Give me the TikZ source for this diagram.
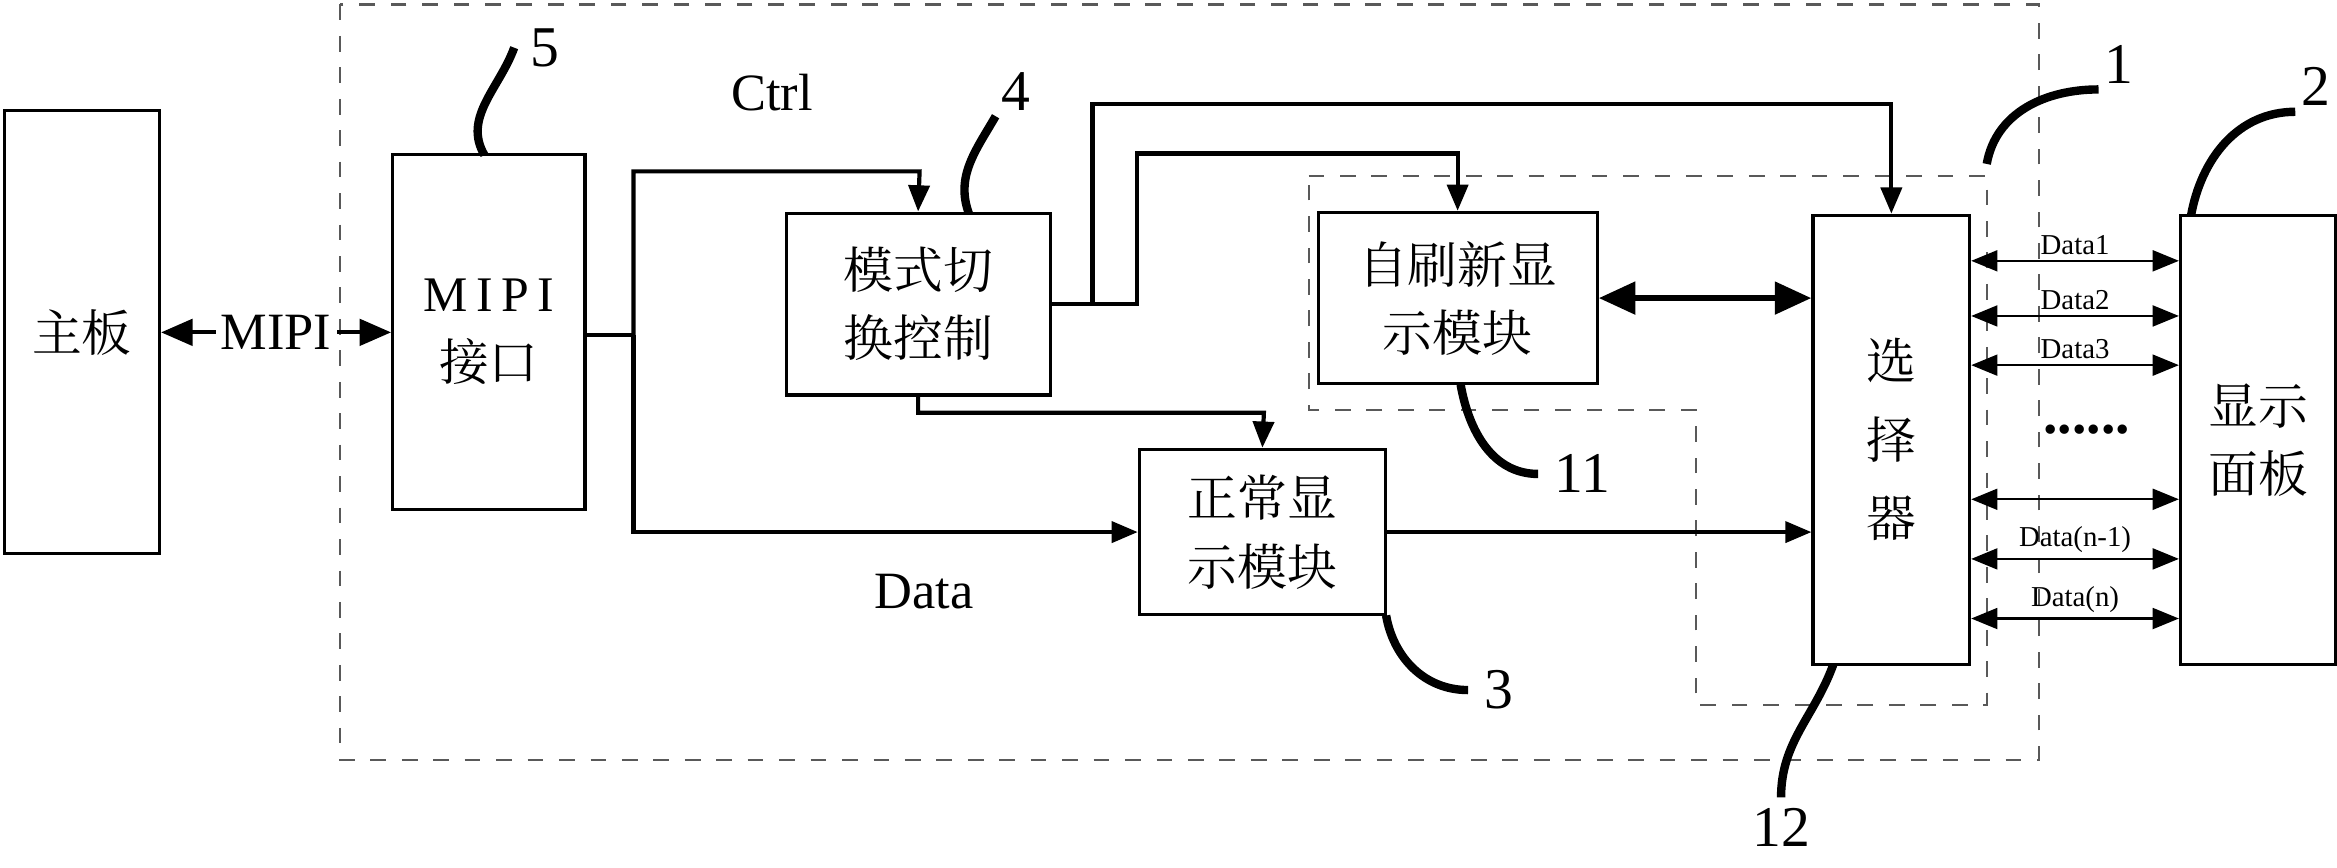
\documentclass[tikz,border=0pt]{standalone}
\usepackage{fontspec}
\setmainfont{Liberation Serif}
\newfontfamily\cjk{Noto Serif CJK SC}[Scale=1]
\usetikzlibrary{arrows.meta}
\begin{document}
\begin{tikzpicture}
  [x=0.01cm, y=-0.01cm,
   blk/.style={draw, semithick, inner sep=0pt, align=center, font=\cjk\fontsize{9.5}{13}\selectfont},
   arr/.style={thick, -{Triangle[length=5pt,width=4pt]}},
   darr/.style={thin, {Triangle[length=5pt,width=4pt]}-{Triangle[length=5pt,width=4pt]}},
   callout/.style={line width=1.6pt},
   num/.style={font=\fontsize{11}{13}\selectfont},
   lbl/.style={font=\fontsize{5.5}{6}\selectfont, inner sep=1pt}]
  \useasboundingbox (0,0) rectangle (1568,582);
  % boxes
  \node[blk, minimum width=1.04cm, minimum height=2.97cm] (mb) at (55,223) {主板};
  \node[blk, minimum width=1.29cm, minimum height=2.38cm] (mipi) at (328,223) {{\fontspec{Liberation Serif}M\,I\,P\,I}\\接口};
  \node[blk, minimum width=1.77cm, minimum height=1.22cm] (mode) at (616,204) {模式切\\换控制};
  \node[blk, minimum width=1.87cm, minimum height=1.15cm] (self) at (978,200) {自刷新显\\示模块};
  \node[blk, minimum width=1.65cm, minimum height=1.11cm] (norm) at (847,357) {正常显\\示模块};
  \node[blk, minimum width=1.05cm, minimum height=3.01cm] (sel) at (1269,295) {选\\[2pt]择\\[2pt]器};
  \node[blk, minimum width=1.04cm, minimum height=3.01cm] (pan) at (1515,295) {显示\\面板};
  % dashed frames
  \draw[dashed, gray!70!black] (228,3) rectangle (1368,510);
  \draw[dashed, gray!70!black] (878,118) -- (1333,118) -- (1333,473) -- (1138,473)
     -- (1138,275) -- (878,275) -- cycle;
  % MIPI link
  \draw[thick, {Triangle[length=6pt,width=5pt]}-{Triangle[length=6pt,width=5pt]}]
     (mb.east) -- (mipi.west) node[midway, fill=white, inner sep=1pt,
     font=\fontsize{10}{12}\selectfont] {MIPI};
  % interface fan-out
  \coordinate (j) at (425,225);
  \draw[thick] (mipi.east |- j) -- (j);
  \draw[arr] (425,225) |- (617,115) -- (mode.north);
  \draw[arr] (425,225) |- (norm.west);
  % mode control outputs
  \draw[arr] (mode.east) -| (733,70) -| (sel.north);
  \draw[arr] (mode.east) -| (763,103) -| (self.north);
  \draw[arr] (mode.south) |- (848,277) -- (norm.north);
  \draw[line width=1.3pt, {Triangle[length=7pt,width=6pt]}-{Triangle[length=7pt,width=6pt]}]
     (self.east) -- (sel.west |- self.east);
  \draw[arr] (norm.east) -- (sel.west |- norm.east);
  % data lines
  \foreach \y/\t in {175/Data1, 212/Data2, 245/Data3, 335/, 375/Data(n-1), 415/Data(n)}
    \draw[darr] (sel.east |- 0,\y) -- (pan.west |- 0,\y) node[midway, above, lbl] {\t};
  \node[font=\fontsize{11}{12}\selectfont] (dots) at (1400,288) {\textbf{......}};
  % labels
  \node[font=\fontsize{10}{12}\selectfont] (ctrl) at (518,62) {Ctrl};
  \node[font=\fontsize{10}{12}\selectfont] (data) at (620,397) {Data};
  % callouts
  \draw[callout] (325,104) to[out=120,in=-110] (345,32) node[num, right=-1pt] {5};
  \draw[callout] (650,143) to[out=110,in=-120] (668,78) node[num, above right=-3pt] {4};
  \draw[callout] (1333,110) to[out=80,in=180] (1408,60) node[num, above right=-3pt] {1};
  \draw[callout] (1470,145) to[out=80,in=180] (1540,75) node[num, above right=-3pt] {2};
  \draw[callout] (980,258) to[out=-80,in=180] (1032,318) node[num, right=-1pt] {11};
  \draw[callout] (930,413) to[out=-80,in=180] (985,463) node[num, right=-1pt] {3};
  \draw[callout] (1230,446) to[out=-110,in=90] (1195,535) node[num, below=-2pt] {12};
\end{tikzpicture}
\end{document}
